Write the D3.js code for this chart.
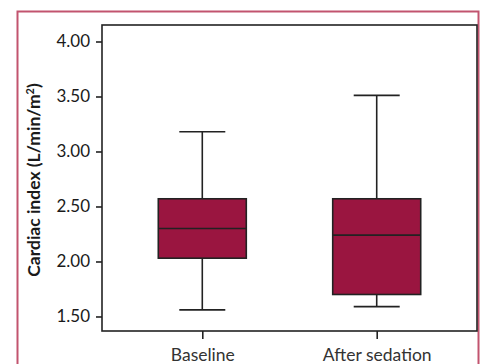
<!DOCTYPE html>
<meta charset="utf-8">
<style>
body { margin: 0; background: #fff; }
text { font-family: Lato, "Open Sans", sans-serif; fill: #1a1a1a; }
.box { fill: #9a1540; stroke: #222; stroke-width: 1.6; }
.whisker { stroke: #222; stroke-width: 1.6; }
</style>
<body>
<script src="https://d3js.org/d3.v7.min.js"></script>
<script>

const width = 480,
    height = 364

// box plot values
const groups = ['Baseline', 'After sedation']
const whiskerLow = [1.56, 1.59]
const q1 = [2.03, 1.70]
const median = [2.30, 2.24]
const q3 = [2.57, 2.57]
const whiskerHigh = [3.18, 3.51]
const yTicks = [1.5, 2.0, 2.5, 3.0, 3.5, 4.0]

const plot = { left: 102, right: 477, top: 25, bottom: 331 }

var svg = d3.select('body')
    .append('svg')
    .attr('width', width)
    .attr('height', height)

// outer frame of the figure panel
svg.append('rect')
    .attr('x', 17.5).attr('y', 11.5)
    .attr('width', 461).attr('height', 380)
    .style('fill', 'none')
    .style('stroke', '#c2546f')
    .style('stroke-width', 2)

var x = d3.scalePoint()
    .domain(groups)
    .range([plot.left, plot.right])
    .padding(0.575)

var y = d3.scaleLinear()
    .domain([1.368, 4.15])
    .range([plot.bottom, plot.top])

var boxW = 88, capW = 46

var data = groups.map(function (g, i) {
    return { name: g, lo: whiskerLow[i], q1: q1[i], med: median[i], q3: q3[i], hi: whiskerHigh[i] }
})

var g = svg.selectAll('.group')
    .data(data)
    .enter().append('g')
    .attr('class', 'group')
    .attr('transform', function (d) { return 'translate(' + x(d.name) + ',0)' })

g.append('line').attr('class', 'whisker')
    .attr('x1', 0).attr('x2', 0)
    .attr('y1', function (d) { return y(d.lo) })
    .attr('y2', function (d) { return y(d.hi) })

g.append('line').attr('class', 'whisker')
    .attr('x1', -capW / 2).attr('x2', capW / 2)
    .attr('y1', function (d) { return y(d.hi) })
    .attr('y2', function (d) { return y(d.hi) })

g.append('line').attr('class', 'whisker')
    .attr('x1', -capW / 2).attr('x2', capW / 2)
    .attr('y1', function (d) { return y(d.lo) })
    .attr('y2', function (d) { return y(d.lo) })

g.append('rect').attr('class', 'box')
    .attr('x', -boxW / 2).attr('width', boxW)
    .attr('y', function (d) { return y(d.q3) })
    .attr('height', function (d) { return y(d.q1) - y(d.q3) })

g.append('line').attr('class', 'whisker')
    .attr('x1', -boxW / 2).attr('x2', boxW / 2)
    .attr('y1', function (d) { return y(d.med) })
    .attr('y2', function (d) { return y(d.med) })

// axes
var yAxis = svg.append('g')
    .attr('transform', 'translate(' + plot.left + ',0)')
    .call(d3.axisLeft(y).tickValues(yTicks).tickFormat(d3.format('.2f')).tickSize(6).tickPadding(6))

var xAxis = svg.append('g')
    .attr('transform', 'translate(0,' + plot.bottom + ')')
    .call(d3.axisBottom(x).tickSize(8).tickPadding(10))

svg.selectAll('.domain').remove()
svg.selectAll('.tick line').style('stroke', '#222').style('stroke-width', 1.6)
yAxis.selectAll('text').style('font-size', '17px').style('fill', '#1a1a1a')
xAxis.selectAll('text').style('font-size', '17.5px').style('fill', '#333')

// plot frame
svg.append('rect')
    .attr('x', plot.left).attr('y', plot.top)
    .attr('width', plot.right - plot.left)
    .attr('height', plot.bottom - plot.top)
    .style('fill', 'none')
    .style('stroke', '#222')
    .style('stroke-width', 1.6)

svg.append('text')
    .attr('transform', 'translate(40,180) rotate(-90)')
    .attr('text-anchor', 'middle')
    .style('font-size', '17.5px')
    .style('font-weight', 'bold')
    .html('Cardiac index (L/min/m<tspan dy="-6" font-size="11px">2</tspan><tspan dy="6">)</tspan>')

</script>
</body>
